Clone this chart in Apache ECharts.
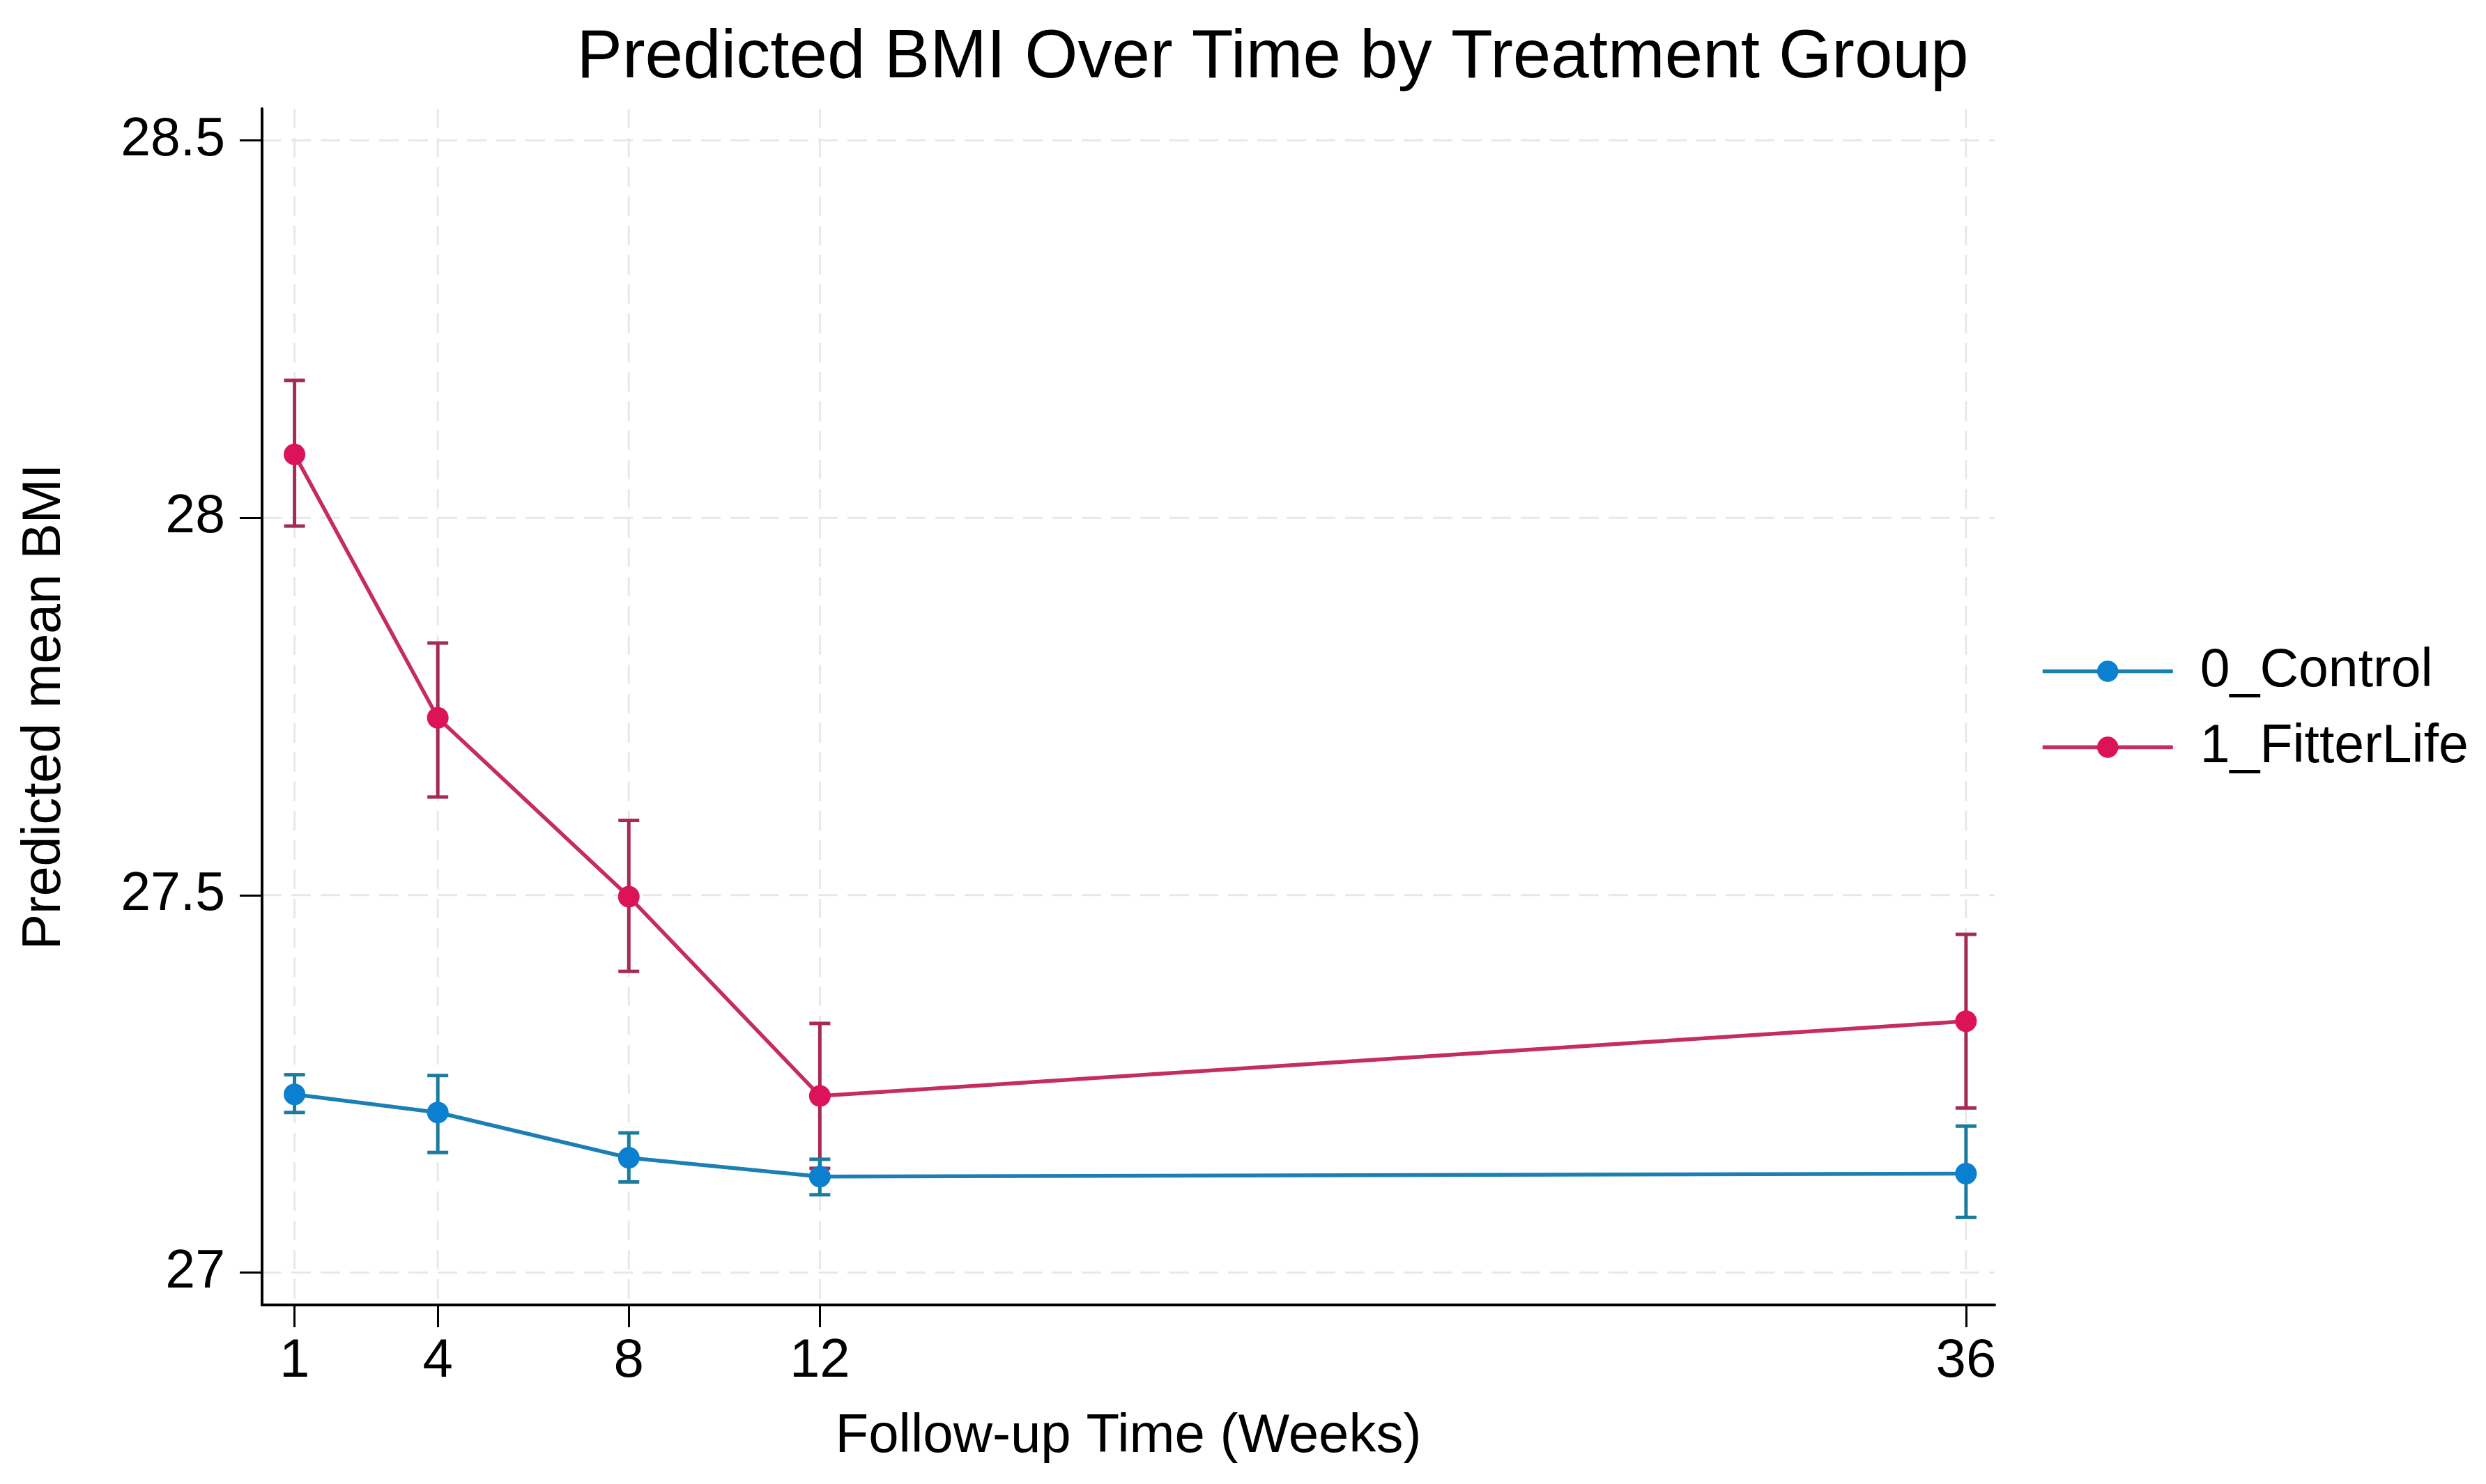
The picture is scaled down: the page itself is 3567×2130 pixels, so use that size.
<!DOCTYPE html>
<html>
<head>
<meta charset="utf-8">
<script src="https://cdn.jsdelivr.net/npm/echarts@6/dist/echarts.min.js"></script>
<style>
  html, body { margin: 0; padding: 0; background: #ffffff; }
  #chart { width: 3567px; height: 2130px; }
</style>
</head>
<body>
<div id="chart"></div>
<script>
// ---- data ----
const weeks = [1, 4, 8, 12, 36];
const controlMean = [27.236, 27.212, 27.152, 27.127, 27.131];
const controlLow  = [27.212, 27.159, 27.120, 27.103, 27.073];
const controlHigh = [27.262, 27.261, 27.185, 27.150, 27.194];
const fitterMean  = [28.084, 27.735, 27.498, 27.234, 27.333];
const fitterLow   = [27.989, 27.630, 27.399, 27.138, 27.218];
const fitterHigh  = [28.182, 27.834, 27.599, 27.330, 27.448];
const xTicks = [1, 4, 8, 12, 36];
const yTicks = [27, 27.5, 28, 28.5];
const seriesNames = ['0_Control', '1_FitterLife'];
const titleText = 'Predicted BMI Over Time by Treatment Group';
const xTitle = 'Follow-up Time (Weeks)';
const yTitle = 'Predicted mean BMI';

// ---- styling ----
const FONT = "'Liberation Sans', Arial, Helvetica, sans-serif";
const blueLine = '#1b7fb4', blueMarker = '#0b7fd0', blueBar = '#1b7b9e';
const redLine = '#c42c62', redMarker = '#dd1359', redBar = '#a52a56';

const chart = echarts.init(document.getElementById('chart'), null, { renderer: 'canvas' });

function errorBarRender(color) {
  return function (params, api) {
    const x = api.value(0);
    const lo = api.coord([x, api.value(1)]);
    const hi = api.coord([x, api.value(2)]);
    const half = 15;
    const st = { stroke: color, lineWidth: 5 };
    return {
      type: 'group',
      children: [
        { type: 'line', shape: { x1: lo[0], y1: lo[1], x2: hi[0], y2: hi[1] }, style: st },
        { type: 'line', shape: { x1: lo[0] - half, y1: lo[1], x2: lo[0] + half, y2: lo[1] }, style: st },
        { type: 'line', shape: { x1: hi[0] - half, y1: hi[1], x2: hi[0] + half, y2: hi[1] }, style: st }
      ]
    };
  };
}

const gridStyle = { stroke: '#e8e8e8', lineWidth: 3, lineDash: [28, 14] };

const option = {
  animation: false,
  backgroundColor: '#ffffff',
  textStyle: { fontFamily: FONT },
  title: {
    text: titleText,
    left: 1821,
    textAlign: 'center',
    top: 30,
    textStyle: { fontFamily: FONT, fontSize: 98, fontWeight: 'normal', color: '#000000' }
  },
  legend: {
    orient: 'vertical',
    left: 2923,
    top: 920,
    itemWidth: 187,
    itemHeight: 38,
    itemGap: 32,
    data: seriesNames,
    lineStyle: { width: 5.5 },
    textStyle: { fontFamily: FONT, fontSize: 77, color: '#000000', padding: [0, 0, 0, 34] }
  },
  grid: { left: 376, right: 705, top: 156, bottom: 257, containLabel: false },
  xAxis: {
    type: 'value',
    min: 0.32,
    max: 36.6,
    name: xTitle,
    nameLocation: 'middle',
    nameGap: 150,
    nameTextStyle: { fontFamily: FONT, fontSize: 78, color: '#000000' },
    axisLine: { show: true, onZero: false, lineStyle: { color: '#000000', width: 4 } },
    axisTick: { show: true, customValues: xTicks, length: 32, lineStyle: { color: '#000000', width: 3 } },
    axisLabel: { show: true, customValues: xTicks, margin: 42, fontFamily: FONT, fontSize: 78, color: '#000000' },
    splitLine: { show: false }
  },
  yAxis: {
    type: 'value',
    min: 26.957,
    max: 28.542,
    name: yTitle,
    nameLocation: 'middle',
    nameGap: 273,
    nameTextStyle: { fontFamily: FONT, fontSize: 77, color: '#000000' },
    axisLine: { show: true, onZero: false, lineStyle: { color: '#000000', width: 4 } },
    axisTick: { show: true, customValues: yTicks, length: 32, lineStyle: { color: '#000000', width: 3 } },
    axisLabel: { show: true, customValues: yTicks, margin: 53, fontFamily: FONT, fontSize: 77, color: '#000000' },
    splitLine: { show: false }
  },
  series: [
    {
      name: 'xgrid',
      type: 'custom',
      z: 0,
      silent: true,
      data: xTicks.map(function (v) { return [v, yTicks[0]]; }),
      encode: { x: 0, y: 1 },
      renderItem: function (params, api) {
        const cs = params.coordSys;
        const px = api.coord([api.value(0), api.value(1)])[0];
        return { type: 'line', shape: { x1: px, y1: cs.y, x2: px, y2: cs.y + cs.height }, style: gridStyle };
      }
    },
    {
      name: 'ygrid',
      type: 'custom',
      z: 0,
      silent: true,
      data: yTicks.map(function (v) { return [xTicks[0], v]; }),
      encode: { x: 0, y: 1 },
      renderItem: function (params, api) {
        const cs = params.coordSys;
        const py = api.coord([api.value(0), api.value(1)])[1];
        return { type: 'line', shape: { x1: cs.x, y1: py, x2: cs.x + cs.width, y2: py }, style: gridStyle };
      }
    },
    {
      name: 'ciFitter',
      type: 'custom',
      z: 2,
      data: weeks.map(function (w, i) { return [w, fitterLow[i], fitterHigh[i]]; }),
      encode: { x: 0, y: [1, 2] },
      renderItem: errorBarRender(redBar)
    },
    {
      name: 'ciControl',
      type: 'custom',
      z: 2,
      data: weeks.map(function (w, i) { return [w, controlLow[i], controlHigh[i]]; }),
      encode: { x: 0, y: [1, 2] },
      renderItem: errorBarRender(blueBar)
    },
    {
      name: seriesNames[1],
      type: 'line',
      z: 3,
      data: weeks.map(function (w, i) { return [w, fitterMean[i]]; }),
      symbol: 'circle',
      symbolSize: 31,
      showSymbol: true,
      lineStyle: { color: redLine, width: 5.5 },
      itemStyle: { color: redMarker }
    },
    {
      name: seriesNames[0],
      type: 'line',
      z: 4,
      data: weeks.map(function (w, i) { return [w, controlMean[i]]; }),
      symbol: 'circle',
      symbolSize: 31,
      showSymbol: true,
      lineStyle: { color: blueLine, width: 5.5 },
      itemStyle: { color: blueMarker }
    }
  ]
};

chart.setOption(option);
</script>
</body>
</html>
